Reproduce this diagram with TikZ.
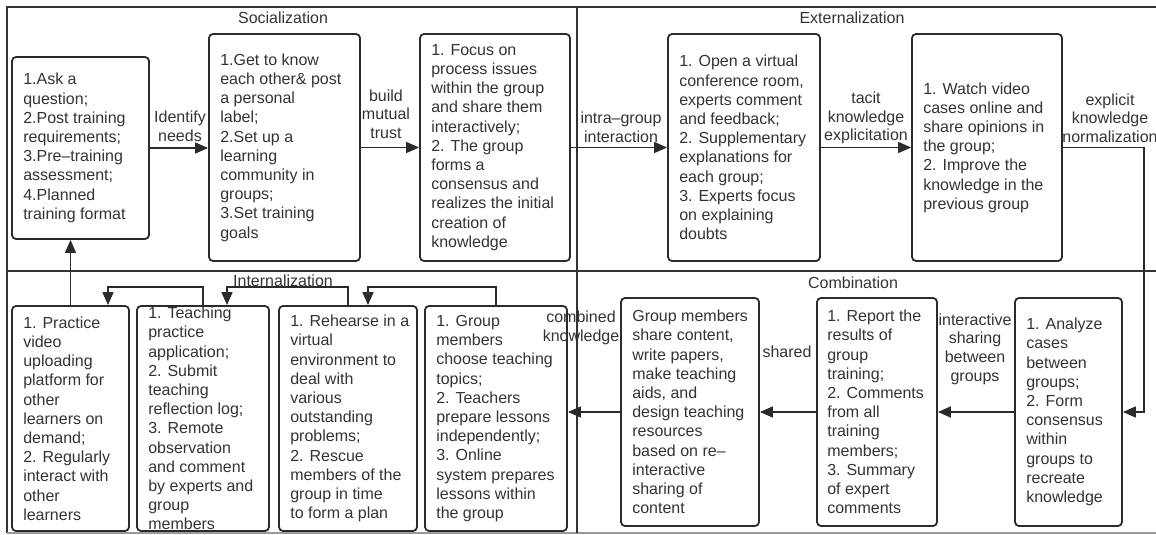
\documentclass[tikz,border=0pt]{standalone}
\usepackage{fontspec}
\setmainfont{Liberation Sans}
\usetikzlibrary{arrows.meta}
\definecolor{boxc}{HTML}{2B2B2B}
\definecolor{txtc}{HTML}{333333}
\definecolor{framec}{HTML}{333333}
\definecolor{lightc}{HTML}{9A9A9A}
\begin{document}
\begin{tikzpicture}[x=1pt,y=-1pt,
  box/.style={draw=boxc, line width=1.8pt, rounded corners=4pt, inner sep=0pt},
  txt/.style={align=left, font=\fontsize{16}{19.2}\selectfont, text=txtc, inner sep=0pt, anchor=west},
  lbl/.style={align=center, font=\fontsize{16}{18.6}\selectfont, text=txtc, inner sep=0pt},
  ttl/.style={font=\fontsize{16}{19}\selectfont, text=txtc, inner sep=0pt},
  arr/.style={draw=boxc, line width=1.6pt, -{Triangle[length=13pt,width=11pt]}},
  frame/.style={draw=framec, line width=2.4pt},
  divider/.style={draw=framec, line width=2pt}]
\useasboundingbox (0,0) rectangle (1156,535);
% frame and dividers
\draw[frame] (1160,7) -- (7,7) -- (7,533);
\draw[draw=lightc, line width=1.5pt] (7,533) -- (1160,533);
\draw[divider] (7,271) -- (1160,271);
\draw[divider] (577,7) -- (577,533);
% titles
\node[ttl] (tS) at (283,18) {Socialization};
\node[ttl] (tE) at (852,18) {Externalization};
\node[ttl] (tI) at (283,281) {Internalization};
\node[ttl] (tC) at (853,283) {Combination};
% top boxes
\node[box, minimum width=137pt, minimum height=182pt] (A) at (80.5,148) {};
\node[txt] (At) at ([xshift=12pt]A.west) {1.Ask a\\question;\\2.Post training\\requirements;\\3.Pre–training\\assessment;\\4.Planned\\training format};
\node[box, minimum width=151pt, minimum height=227pt] (B) at (284.5,147.5) {};
\node[txt] (Bt) at ([xshift=12pt]B.west) {1.Get to know\\each other\& post\\a personal\\label;\\2.Set up a\\learning\\community in\\groups;\\3.Set training\\goals};
\node[box, minimum width=150pt, minimum height=227pt] (C) at (495,147.5) {};
\node[txt] (Ct) at ([xshift=12pt]C.west) {1. Focus on\\process issues\\within the group\\and share them\\interactively;\\2. The group\\forms a\\consensus and\\realizes the initial\\creation of\\knowledge};
\node[box, minimum width=152pt, minimum height=227pt] (D) at (744,147.5) {};
\node[txt] (Dt) at ([xshift=12pt]D.west) {1. Open a virtual\\conference room,\\experts comment\\and feedback;\\2. Supplementary\\explanations for\\each group;\\3. Experts focus\\on explaining\\doubts};
\node[box, minimum width=150pt, minimum height=227pt] (E) at (987,147.5) {};
\node[txt] (Et) at ([xshift=12pt]E.west) {1. Watch video\\cases online and\\share opinions in\\the group;\\2. Improve the\\knowledge in the\\previous group};
% bottom boxes
\node[box, minimum width=107pt, minimum height=228pt] (F) at (1068.5,412) {};
\node[txt] (Ft) at ([xshift=12pt]F.west) {1. Analyze\\cases\\between\\groups;\\2. Form\\consensus\\within\\groups to\\recreate\\knowledge};
\node[box, minimum width=120pt, minimum height=228pt] (G) at (877,412) {};
\node[txt] (Gt) at ([xshift=11pt]G.west) {1. Report the\\results of\\group\\training;\\2. Comments\\from all\\training\\members;\\3. Summary\\of expert\\comments};
\node[box, minimum width=138pt, minimum height=228pt] (H) at (690,412) {};
\node[txt] (Ht) at ([xshift=12pt]H.west) {Group members\\share content,\\write papers,\\make teaching\\aids, and\\design teaching\\resources\\based on re–\\interactive\\sharing of\\content};
\node[box, minimum width=142pt, minimum height=225pt] (I) at (496,418.5) {};
\node[txt] (It) at ([xshift=12pt]I.west) {1. Group\\members\\choose teaching\\topics;\\2. Teachers\\prepare lessons\\independently;\\3. Online\\system prepares\\lessons within\\the group};
\node[box, minimum width=138pt, minimum height=225pt] (J) at (348,418.5) {};
\node[txt] (Jt) at ([xshift=12pt]J.west) {1. Rehearse in a\\virtual\\environment to\\deal with\\various\\outstanding\\problems;\\2. Rescue\\members of the\\group in time\\to form a plan};
\node[box, minimum width=132pt, minimum height=225pt] (K) at (203,418.5) {};
\node[txt] (Kt) at ([xshift=12pt]K.west) {1. Teaching\\practice\\application;\\2. Submit\\teaching\\reflection log;\\3. Remote\\observation\\and comment\\by experts and\\group\\members};
\node[box, minimum width=117pt, minimum height=225pt] (L) at (70.5,418.5) {};
\node[txt] (Lt) at ([xshift=12pt]L.west) {1. Practice\\video\\uploading\\platform for\\other\\learners on\\demand;\\2. Regularly\\interact with\\other\\learners};
% top connectors
\draw[arr] (A.east) -- (A.east -| B.west);
\draw[arr] (B.east) -- (C.west);
\draw[arr] (C.east) -- (D.west);
\draw[arr] (D.east) -- (E.west);
\coordinate (e1) at (1144,147.5);
\draw[arr] (E.east) -- (e1) |- (F.east);
% bottom connectors
\draw[arr] (F.west) -- (G.east);
\draw[arr] (G.west) -- (H.east);
\draw[arr] (H.west) -- (H.west -| I.east);
\draw[arr] (I.north) -- ++(0,-18) -| ([xshift=20pt]J.north);
\draw[arr] (J.north) -- ++(0,-18) -| ([xshift=24pt]K.north);
\draw[arr] (K.north) -- ++(0,-18) -| ([xshift=37.5pt]L.north);
\draw[arr] (L.north) -- (L.north |- A.south);
% labels
\node[lbl] (l1) at (180,126) {Identify\\needs};
\node[lbl] (l2) at (386,114) {build\\mutual\\trust};
\node[lbl] (l3) at (621,127) {intra–group\\interaction};
\node[lbl] (l4) at (866,118) {tacit\\knowledge\\explicitation};
\node[lbl] (l5) at (1110,118) {explicit\\knowledge\\normalization};
\node[lbl] (l6) at (975,349) {interactive\\sharing\\between\\groups};
\node[lbl] (l7) at (787,352) {shared};
\node[lbl] (l8) at (581,328) {combined\\knowledge};
\end{tikzpicture}
\end{document}
